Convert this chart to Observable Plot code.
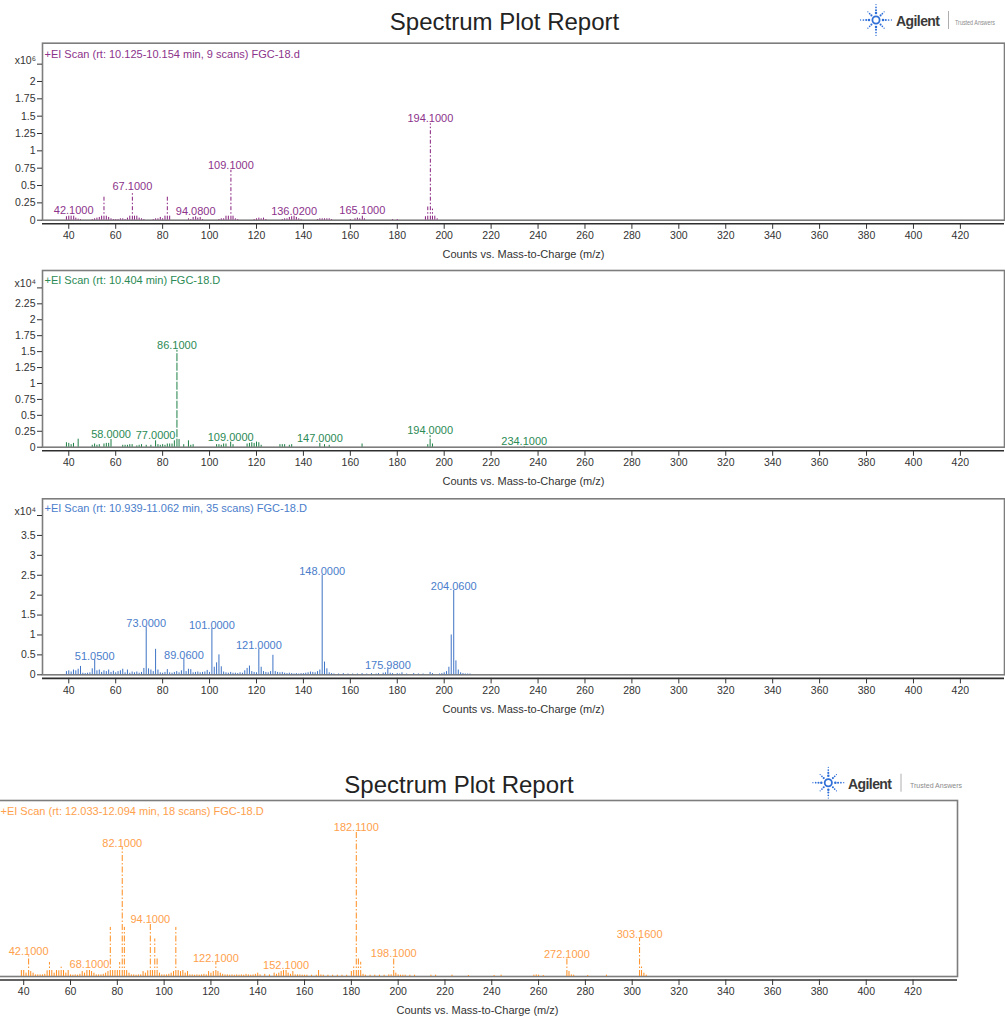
<!DOCTYPE html>
<html><head><meta charset="utf-8">
<script src="https://cdn.jsdelivr.net/npm/d3@7"></script>
<script src="https://cdn.jsdelivr.net/npm/@observablehq/plot@0.6"></script>
<style>
body{margin:0;background:#fff;}
#page{position:relative;width:1005px;height:1017px;overflow:hidden;font-family:"Liberation Sans",Arial,sans-serif;}
</style></head><body><div id="page"></div>
<script>
// ---------- data ----------
const reportTitle = "Spectrum Plot Report";
const axisTitle = "Counts vs. Mass-to-Charge (m/z)";
const xTicks = [40,60,80,100,120,140,160,180,200,220,240,260,280,300,320,340,360,380,400,420];

const header1 = "+EI Scan (rt: 10.125-10.154 min, 9 scans) FGC-18.d";
const yTicks1 = [0,0.25,0.5,0.75,1,1.25,1.5,1.75,2];
const yExp1 = "x10\u2076";
const peaks1 = [[39,0.05],[40,0.06],[41,0.06],[42.1,0.065],[43,0.03],[44,0.015],[45,0.01],
 [50,0.01],[51,0.02],[52,0.03],[53,0.04],[54,0.06],[55,0.345],[56,0.06],[57,0.04],[58,0.02],[59,0.01],[60,0.01],[61,0.01],[62,0.02],
 [63,0.02],[64,0.01],[65,0.03],[66,0.06],[67.1,0.41],[68,0.07],[69,0.06],[70,0.03],[71,0.02],[72,0.01],
 [76,0.01],[77,0.02],[78,0.02],[79,0.04],[80,0.02],[81,0.06],[82,0.335],[83,0.06],
 [91,0.02],[92,0.01],[93,0.04],[94.08,0.05],[95,0.03],[96,0.04],[97,0.01],
 [104,0.01],[105,0.02],[106,0.02],[107,0.06],[108,0.07],[109.1,0.72],[110,0.06],[111,0.02],[112,0.01],
 [119,0.01],[120,0.02],[121,0.03],[122,0.02],[123,0.03],[124,0.01],
 [131,0.01],[132,0.02],[133,0.02],[134,0.04],[135,0.05],[136.02,0.06],[137,0.04],[138,0.02],[139,0.01],
 [146,0.01],[147,0.02],[148,0.02],[149,0.02],[150,0.02],[151,0.02],[152,0.01],
 [160,0.01],[162,0.02],[163,0.03],[164,0.02],[165.1,0.07],[166,0.02],
 [178,0.01],[180,0.01],
 [192,0.05],[193,0.19],[194.1,1.39],[195,0.16],[196,0.06],[197,0.02]];
const labels1 = [42.1,67.1,94.08,109.1,136.02,165.1,194.1];

const header2 = "+EI Scan (rt: 10.404 min) FGC-18.D";
const yTicks2 = [0,0.25,0.5,0.75,1,1.25,1.5,1.75,2,2.25];
const yExp2 = "x10\u2074";
const peaks2 = [[39,0.07],[40,0.06],[41,0.04],[42,0.06],[44,0.14],
 [50,0.03],[51,0.05],[52,0.03],[53,0.04],[55,0.05],[56,0.06],[57,0.06],[58,0.12],
 [63,0.03],[64,0.03],[65,0.03],[66,0.04],[67,0.04],[69,0.02],
 [70,0.03],[71,0.04],[73,0.03],[75,0.03],[77,0.1],[78,0.04],[79,0.03],[80,0.04],[81,0.03],[82,0.05],[83,0.05],[84,0.05],[85,0.1],[86.1,1.52],[87,0.12],[89,0.04],[91,0.1],[92,0.03],[93,0.04],
 [103,0.04],[104,0.04],[105,0.03],[106,0.05],[107,0.05],[109,0.08],[110,0.04],
 [116,0.05],[117,0.06],[118,0.07],[119,0.06],[120,0.08],[121,0.07],[122,0.03],
 [130,0.04],[131,0.04],[132,0.04],[134,0.03],[135,0.04],
 [147,0.06],[149,0.04],[151,0.03],
 [165,0.05],
 [193,0.04],[194,0.18],[195,0.05],
 [234.1,0.01]];
const labels2 = [58,77,86.1,109,147,194,234.1];

const header3 = "+EI Scan (rt: 10.939-11.062 min, 35 scans) FGC-18.D";
const yTicks3 = [0,0.5,1,1.5,2,2.5,3,3.5];
const yExp3 = "x10\u2074";
const peaks3 = [[39,0.08],[40,0.1],[41,0.07],[42,0.12],[43,0.1],[44,0.14],[45,0.21],[46,0.04],[47,0.03],[48,0.04],[49,0.05],
 [50,0.15],[51.05,0.38],[52,0.1],[53,0.12],[54,0.06],[55,0.1],[56,0.08],[57,0.12],[58,0.06],[59,0.09],
 [60,0.05],[61,0.08],[62,0.1],[63,0.14],[64,0.05],[65,0.12],[66,0.04],[67,0.07],[68,0.05],[69,0.07],
 [70,0.04],[71,0.06],[72,0.16],[73,1.2],[74,0.15],[75,0.12],[76,0.08],[77,0.64],[78,0.12],[79,0.05],
 [80,0.04],[81,0.06],[82,0.13],[83,0.05],[84,0.04],[85,0.06],[86,0.08],[87,0.05],[88,0.1],[89.06,0.4],
 [90,0.08],[91,0.14],[92,0.13],[93,0.05],[94,0.06],[95,0.07],[96,0.05],[97,0.06],[98,0.07],[99,0.11],
 [100,0.06],[101,1.16],[102,0.19],[103,0.3],[104,0.5],[105,0.2],[106,0.07],[107,0.05],[108,0.04],[109,0.06],
 [110,0.04],[111,0.04],[112,0.03],[113,0.05],[114,0.04],[115,0.1],[116,0.16],[117,0.22],[118,0.08],[119,0.06],
 [120,0.05],[121,0.65],[122,0.19],[123,0.08],[124,0.06],[125,0.05],[126,0.08],[127,0.49],[128,0.08],[129,0.06],
 [130,0.05],[131,0.06],[132,0.04],[133,0.03],[134,0.04],[135,0.03],[136,0.02],[137,0.03],[138,0.02],[139,0.03],
 [140,0.03],[141,0.04],[142,0.05],[143,0.07],[144,0.06],[145,0.05],[146,0.08],[147,0.12],[148,2.5],[149,0.32],
 [150,0.15],[151,0.05],[152,0.03],[153,0.02],[155,0.02],[157,0.03],[159,0.02],[161,0.02],[163,0.02],[165,0.03],
 [167,0.02],[169,0.03],[171,0.02],[172,0.03],[174,0.04],[175,0.05],[175.98,0.15],[177,0.04],[178,0.03],
 [180,0.03],[181,0.02],[182,0.05],[184,0.02],[187,0.03],[189,0.02],[191,0.02],[194,0.06],[195,0.03],[198,0.02],[199,0.03],
 [200,0.05],[201,0.08],[202,0.19],[203,1.0],[204.06,2.12],[205,0.35],[206,0.12],[207,0.05],[208,0.03],[209,0.02],[210,0.02],[211,0.02]];
const labels3 = [51.05,73,89.06,101,121,148,175.98,204.06];

const header4 = "+EI Scan (rt: 12.033-12.094 min, 18 scans) FGC-18.D";
const peaks4 = [[39,4.1],[40,4.1],[41,2.3],[42.1,14.2],[43,3.4],[44,2.3],[45,1.1],[46,1.1],[47,1.1],[48,1.1],[49,1.5],
 [50,3.9],[51,9.6],[52,4.1],[53,2.3],[54,4.1],[55,3.9],[56,6.4],[57,4.1],[58,2.3],[59,4.1],
 [60,1.1],[61,0.9],[62,1.1],[63,0.9],[64,1.5],[65,3.4],[66,2.3],[67,4.1],[68.1,5.7],[69,3.4],
 [70,2.3],[71,1.1],[72,1.1],[73,1.1],[74,1.5],[75,2.3],[76,3.4],[77,33.8],[78,4.1],[79,4.1],
 [80,4.1],[81,9.6],[82.1,88.6],[83,33.8],[84,4.1],[85,2.3],[86,1.1],[87,1.1],[88,0.9],[89,1.1],
 [90,1.1],[91,3.4],[92,2.3],[93,3.9],[94.1,36.5],[95,4.1],[96,25.8],[97,13.2],[98,2.3],[99,1.1],
 [100,1.1],[101,1.1],[102,1.5],[103,2.3],[104,3.4],[105,33.8],[106,4.1],[107,3.4],[108,4.1],[109,2.3],
 [110,3.4],[111,1.1],[112,1.1],[113,0.9],[114,1.1],[115,0.9],[116,1.1],[117,1.5],[118,1.1],[119,3.4],
 [120,2.3],[121,3.4],[122.1,9.6],[123,3.4],[124,2.3],[125,1.5],[126,1.1],[127,1.1],[128,0.9],[129,1.1],
 [130,0.9],[131,1.1],[132,0.9],[133,1.1],[134,0.9],[135,1.5],[136,1.1],[137,0.9],[138,1.1],[139,1.5],
 [140,2.3],[141,1.1],[143,1.5],[145,1.1],[147,2.3],[148,1.5],[149,2.3],[150,3.4],[151,4.1],[152.1,5.0],
 [153,2.3],[154,1.5],[155,3.4],[156,1.1],[157,1.1],[158,1.1],[159,0.9],[160,0.9],[161,0.9],[163,0.9],
 [165,0.9],[166,4.1],[167,1.1],[168,0.9],[170,0.9],[172,0.9],[174,0.9],[176,0.9],[178,0.9],
 [180,3.4],[181,6.8],[182.11,100],[183,13.2],[184,9.8],[185,1.5],[186,0.9],[188,0.9],[190,0.9],[192,0.9],
 [194,0.9],[196,1.1],[197,1.1],[198.1,13.2],[199,2.3],[200,1.1],[201,0.9],[202,0.9],[203,0.9],[205,0.9],
 [207,0.9],[214,0.9],[216,0.9],[223,0.9],[230,0.7],[241,0.7],[244,0.9],[258,0.9],[259,1.1],[260,0.9],
 [262,0.7],[272.1,12.1],[273,3.4],[274,1.1],[275,0.9],[281,0.7],[289,0.9],[303.16,26.3],[304,6.8],[305,2.3],[306,0.9]];
const labels4 = [42.1,68.1,82.1,94.1,122.1,152.1,182.11,198.1,272.1,303.16];

// ---------- drawing ----------
const page = document.getElementById("page");
const FONT = "'Liberation Sans', Arial, sans-serif";
const fmt = d3.format(".4f");

function makePanel(c) {
  const data = c.peaks.map(([mz, v]) => ({mz, v}));
  const lab = c.labels.map(l => {
    const p = data.reduce((a, d) => Math.abs(d.mz - l) < Math.abs(a.mz - l) ? d : a);
    return {mz: l, v: p.v, t: fmt(l)};
  });
  const marks = [
    Plot.frame({stroke: "#7d7d7d", strokeWidth: 1.6, insetBottom: c.inset}),
    Plot.ruleY([0], {dy: c.inset, stroke: "#2e2e2e", strokeWidth: 1.6}),
    Plot.axisX(xTicks, {tickSize: 5.5, tickPadding: 2.5, fontSize: 10.5, color: "#333", label: null, tickFormat: d => String(d)}),
    Plot.ruleX(data, {x: "mz", y1: 0, y2: "v", stroke: c.color, strokeWidth: 1, strokeDasharray: c.dash}),
    Plot.text(lab, {x: "mz", y: "v", text: "t", fill: c.labelColor, fontSize: 11, lineAnchor: "middle", dy: c.labelDy}),
    Plot.text([c.header], {text: d => d, frameAnchor: "top-left", textAnchor: "start", lineAnchor: "middle", dx: c.headerDx, dy: c.headerDy, fill: c.labelColor, fontSize: 11}),
    Plot.text([axisTitle], {text: d => d, frameAnchor: "bottom", lineAnchor: "middle", dy: 30.7, fill: "#333", fontSize: 11})
  ];
  if (c.yTicks) {
    marks.push(
      Plot.axisY(c.yTicks.concat([c.expAt]), {tickSize: 5, tickPadding: 2, fontSize: 10.5, color: "#333", label: null,
        tickFormat: d => d === c.expAt ? "" : String(d)}),
      Plot.text([c.exp], {text: d => d, frameAnchor: "left", y: c.expAt, dx: -6.5, dy: -4, textAnchor: "end", lineAnchor: "middle", fill: "#333", fontSize: 10.5})
    );
  }
  const svg = Plot.plot({
    width: c.width, height: c.height,
    marginLeft: c.mL, marginRight: c.mR, marginTop: c.mT, marginBottom: c.mB,
    x: {domain: c.xDomain, label: null},
    y: {domain: [0, c.yTop], insetBottom: c.inset, label: null, axis: c.yTicks ? undefined : null},
    style: {fontFamily: FONT, fontSize: "11px", background: "transparent", overflow: "visible"},
    marks
  });
  svg.style.position = "absolute";
  svg.style.left = c.left + "px";
  svg.style.top = c.top + "px";
  page.appendChild(svg);
}

makePanel({peaks: peaks1, labels: labels1, header: header1, yTicks: yTicks1, exp: yExp1, expAt: 2.25,
  color: "#87207f", labelColor: "#8c338b", dash: "4,2,1.5,2", labelDy: -5,
  left: 0, top: 38, width: 1005, height: 228, mL: 42, mR: 1, mT: 4.7, mB: 42.7, inset: 3.6,
  xDomain: [28.8, 438.8], yTop: 2.552, headerDx: 2, headerDy: 11});

makePanel({peaks: peaks2, labels: labels2, header: header2, yTicks: yTicks2, exp: yExp2, expAt: 2.5,
  color: "#1d7f45", labelColor: "#2b8a55", dash: "8,1.5", labelDy: -5,
  left: 0, top: 265, width: 1005, height: 228, mL: 42, mR: 1, mT: 5, mB: 42.7, inset: 3.6,
  xDomain: [28.8, 438.8], yTop: 2.773, headerDx: 2, headerDy: 10});

makePanel({peaks: peaks3, labels: labels3, header: header3, yTicks: yTicks3, exp: yExp3, expAt: 4,
  color: "#3e73c6", labelColor: "#4a7dcb", dash: null, labelDy: -3.5,
  left: 0, top: 493, width: 1005, height: 228, mL: 42, mR: 1, mT: 5.3, mB: 43.1, inset: 3.6,
  xDomain: [28.8, 438.8], yTop: 4.42, headerDx: 2, headerDy: 9.4});

makePanel({peaks: peaks4, labels: labels4, header: header4, yTicks: null,
  color: "#ff8d1f", labelColor: "#ffa04c", dash: "6,2,1.5,2", labelDy: -4,
  left: -3, top: 796, width: 961, height: 221, mL: 0, mR: 1, mT: 4, mB: 37.5, inset: 3.5,
  xDomain: [28.8, 439], yTop: 121.1, headerDx: 3, headerDy: 10.7});

// ---------- titles and logos ----------
const deco = d3.select(page).append("svg")
  .attr("width", 1005).attr("height", 1017)
  .style("position", "absolute").style("left", "0px").style("top", "0px")
  .style("pointer-events", "none").style("font-family", FONT);

function titleBlock(cx, by) {
  deco.append("text").attr("x", cx).attr("y", by).attr("text-anchor", "middle")
    .attr("font-size", 24).attr("fill", "#232323").text(reportTitle);
}
function logo(sx, sy, tx, sepX, trustX, trustW, trustSize) {
  const g = deco.append("g");
  const blue = "#2f6fd8";
  g.append("circle").attr("cx", sx).attr("cy", sy).attr("r", 3.6)
    .attr("fill", "none").attr("stroke", blue).attr("stroke-width", 1.8);
  for (let k = 0; k < 8; k++) {
    const a = k * Math.PI / 4, card = k % 2 === 0;
    const dists = card ? [7, 9.8, 12.6, 15.4] : [6.5, 9, 11.5];
    dists.forEach((r, i) => g.append("circle")
      .attr("cx", sx + r * Math.cos(a)).attr("cy", sy + r * Math.sin(a))
      .attr("r", (card ? 1.25 : 1.05) - i * 0.2).attr("fill", blue));
  }
  g.append("text").attr("x", tx).attr("y", sy + 6).attr("font-size", 14).attr("font-weight", "bold")
    .attr("fill", "#3a3a3a").attr("textLength", 44).text("Agilent");
  g.append("line").attr("x1", sepX).attr("x2", sepX).attr("y1", sy - 9).attr("y2", sy + 9)
    .attr("stroke", "#999").attr("stroke-width", 0.8);
  g.append("text").attr("x", trustX).attr("y", sy + 5).attr("font-size", trustSize)
    .attr("font-family", "'Liberation Sans Narrow', 'Liberation Sans', Arial, sans-serif")
    .attr("textLength", trustW).attr("lengthAdjust", "spacingAndGlyphs")
    .attr("fill", "#8a8a8a").text("Trusted Answers");
}
titleBlock(504.5, 30);
logo(876, 20, 896, 948.5, 955, 40, 6.5);
titleBlock(459, 793.3);
logo(828.3, 782.7, 848, 901, 910, 52, 8);
</script>
</body></html>
